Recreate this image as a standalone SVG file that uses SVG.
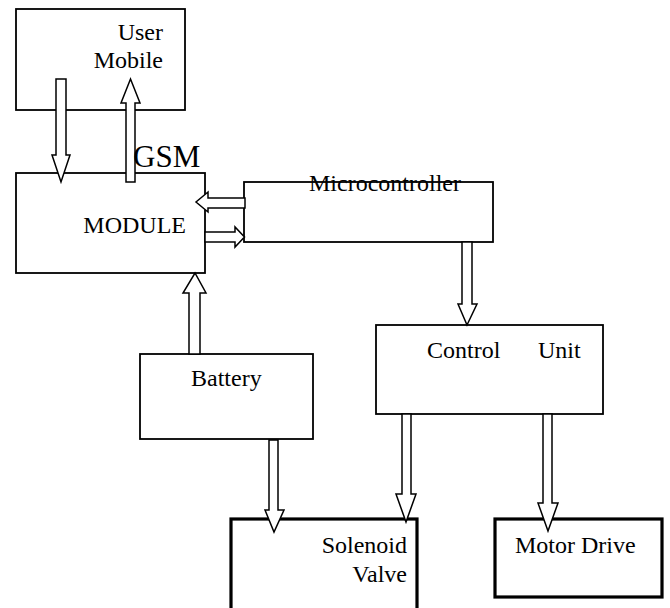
<svg xmlns="http://www.w3.org/2000/svg" width="670" height="608" viewBox="0 0 670 608">
<style>
.box{fill:#fff;stroke:#000;stroke-width:1.8}
.thick{fill:#fff;stroke:#000;stroke-width:3.2}
.arr{fill:#fff;stroke:#000;stroke-width:1.5;stroke-linejoin:miter}
text{font-family:"Liberation Serif","Times New Roman",serif;font-size:24px;fill:#000}
</style>
<rect width="670" height="608" fill="#fff"/>
<g id="user-mobile">
<rect class="box" x="16" y="9" width="169" height="101"/>
<text x="163" y="40" text-anchor="end">User</text>
<text x="163" y="68" text-anchor="end">Mobile</text>
</g>
<g id="gsm-module">
<rect class="box" x="16" y="173" width="189" height="100"/>
<text x="186" y="233" text-anchor="end">MODULE</text>
</g>
<g id="microcontroller">
<rect class="box" x="244" y="182" width="249" height="60"/>
<text x="309" y="191">Microcontroller</text>
</g>
<g id="control-unit">
<rect class="box" x="376" y="325" width="227" height="89"/>
<text x="427" y="358">Control</text>
<text x="538" y="358">Unit</text>
</g>
<g id="battery">
<rect class="box" x="140" y="354" width="173" height="85"/>
<text x="191" y="386">Battery</text>
</g>
<g id="solenoid-valve">
<rect class="thick" x="231" y="519" width="186" height="95"/>
<text x="407" y="553" text-anchor="end">Solenoid</text>
<text x="407" y="582" text-anchor="end">Valve</text>
</g>
<g id="motor-drive">
<rect class="thick" x="495" y="519" width="167" height="78"/>
<text x="515" y="553">Motor Drive</text>
</g>
<g id="connectors">
<polygon class="arr" points="56,79 66,79 66,155 70,155 61,182 52,155 56,155"/>
<polygon class="arr" points="126,182 126,103 121,103 130.5,79 140,103 135,103 135,182"/>
<polygon class="arr" points="245,198 208,198 208,192 196,202 208,212 208,208 245,208"/>
<polygon class="arr" points="205,232 235,232 235,227 244.5,237 235,247 235,242 205,242"/>
<polygon class="arr" points="189,354 189,293 183,293 195,273 206,293 200,293 200,354"/>
<polygon class="arr" points="462,242 472,242 472,304 477,304 467,325 458,304 462,304"/>
<polygon class="arr" points="269,440 278,440 278,510 284,510 274,532 265,510 269,510"/>
<polygon class="arr" points="402,414 411,414 411,494 416,494 406,522 396,494 402,494"/>
<polygon class="arr" points="543,414 552,414 552,503 558,503 548,531 538,503 543,503"/>
</g>
<g id="gsm-label">
<text x="133" y="167" style="font-size:31px">GSM</text>
</g>
</svg>
